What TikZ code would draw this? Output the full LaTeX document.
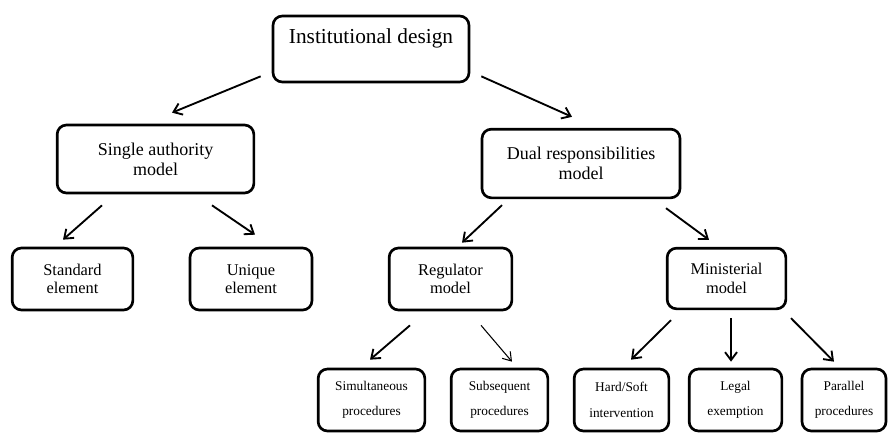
\documentclass[tikz,border=0pt]{standalone}
\usepackage{fontspec}
\setmainfont{Liberation Serif}
\usetikzlibrary{arrows.meta,calc}

\tikzset{every picture/.style={line width=0.75pt}}
\tikzset{
  box/.style={draw, line width=2pt, rounded corners=7pt, align=center, inner sep=0.75pt},
  topbox/.style={box, font=\fontsize{16}{19}\selectfont},
  midbox/.style={box, font=\fontsize{13.5}{15}\selectfont},
  lowbox/.style={box, font=\fontsize{12.3}{14}\selectfont},
  leafbox/.style={box, font=\fontsize{10}{19}\selectfont},
  arr/.style={line width=1.4pt, -{Straight Barb[length=6pt,width=9pt]}},
  thinarr/.style={line width=0.8pt, -{Straight Barb[length=6pt,width=8pt]}},
}

\begin{document}
\begin{tikzpicture}[x=0.75pt,y=0.75pt,yscale=-1,xscale=1]
\useasboundingbox (0,0) rectangle (888,433);

%Rounded Rect: top
\node [topbox, minimum width=147pt, minimum height=49.5pt] (inst) at (371,49) {Institutional design\\ \mbox{}};

%Rounded Rect: second row
\node [midbox, minimum width=147.5pt, minimum height=51pt] (single) at (155.5,159) {Single authority\\model};
\node [midbox, minimum width=148.5pt, minimum height=51.5pt] (dual) at (581,163.5) {Dual responsibilities\\model};

%Rounded Rect: third row
\node [lowbox, minimum width=90.5pt, minimum height=46.5pt] (standard) at (72.5,279) {Standard\\element};
\node [lowbox, minimum width=91.5pt, minimum height=46.5pt] (unique) at (251,279) {Unique\\element};
\node [lowbox, minimum width=92pt, minimum height=46.5pt] (regulator) at (450.5,279) {Regulator\\model};
\node [lowbox, minimum width=89pt, minimum height=45.5pt] (ministerial) at (726.5,278.5) {Ministerial\\model};

%Rounded Rect: bottom row
\node [leafbox, minimum width=80pt, minimum height=46.5pt] (simult) at (371.5,400) {Simultaneous\\procedures};
\node [leafbox, minimum width=72.5pt, minimum height=46.5pt] (subseq) at (499.5,400) {Subsequent\\procedures};
\node [leafbox, minimum width=71pt, minimum height=46.5pt] (hardsoft) at (621.5,400) {Hard/Soft\\intervention};
\node [leafbox, minimum width=69.5pt, minimum height=46.5pt] (legal) at (735.5,400) {Legal\\exemption};
\node [leafbox, minimum width=63pt, minimum height=46.5pt] (parallel) at (844,400) {Parallel\\procedures};

%Straight Lines
\draw [arr] ($(inst.south west)+(-11,-7)$) -- ($(single.north)+(16.5,-11)$);
\draw [arr] ($(inst.south east)+(11,-7)$) -- ($(dual.north)+(-9,-11)$);
\draw [arr] ($(single.south)+(-53.5,11)$) -- ($(standard.north)+(-9.5,-7)$);
\draw [arr] ($(single.south)+(56.5,11)$) -- ($(unique.north)+(4,-12)$);
\draw [arr] ($(dual.south)+(-79,6)$) -- ($(regulator.north)+(11.5,-4)$);
\draw [arr] ($(dual.south)+(85,9)$) -- ($(ministerial.north)+(-17.5,-7)$);
\draw [arr] ($(regulator.south)+(-40.5,14)$) -- ($(simult.north)+(-1.5,-8)$);
\draw [thinarr] ($(regulator.south)+(30.5,14)$) -- ($(subseq.north)+(12.5,-6)$);
\draw [arr] ($(ministerial.south)+(-55.5,10)$) -- ($(hardsoft.north)+(9.5,-8)$);
\draw [arr] ($(ministerial.south)+(4.5,8)$) -- ($(legal.north)+(-4.5,-6)$);
\draw [arr] ($(ministerial.south)+(64.5,8)$) -- ($(parallel.north)+(-10,-6)$);

\end{tikzpicture}
\end{document}
